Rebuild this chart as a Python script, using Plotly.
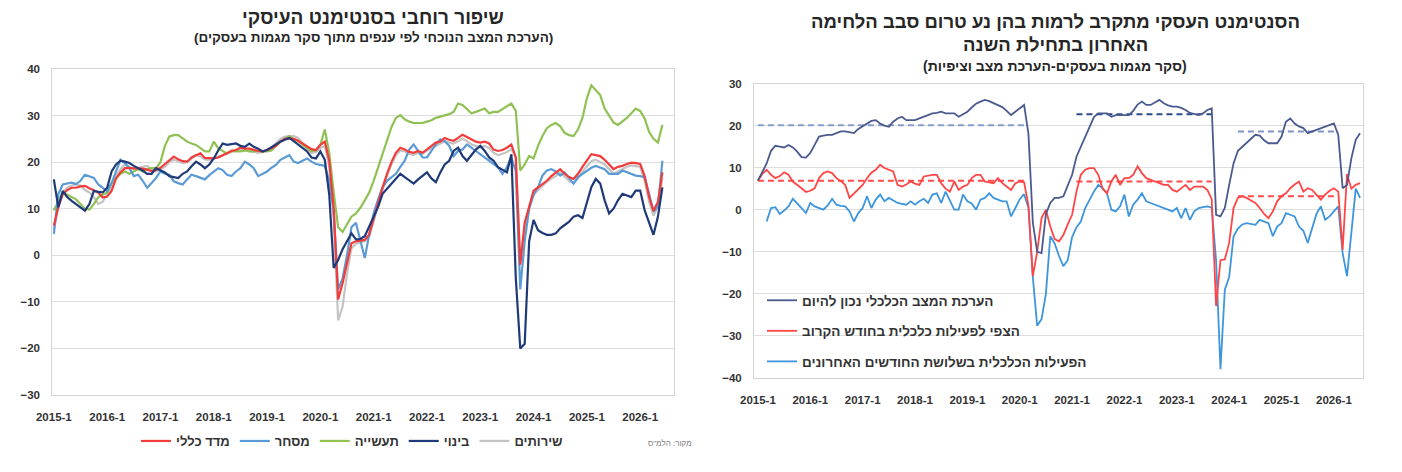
import plotly.graph_objects as go

FONT = "Arial, Liberation Sans, DejaVu Sans, sans-serif"

years = list(range(2015, 2027))
months = [f"{y}-{m}" for y in years for m in range(1, 13)]
year_ticks = [f"{y}-1" for y in years]

# ---- left chart: current assessment by sector (2015-1 .. 2026-6)
total_idx = [
    6.4, 10.3, 13.1, 14.0, 14.5, 14.5, 14.8, 14.9, 14.4, 13.9, 13.5, 12.4,
    12.6, 13.8, 16.5, 17.8, 18.7, 18.7, 18.7, 18.7, 18.6, 18.4, 18.1, 18.3,
    18.8, 19.6, 20.5, 21.2, 20.6, 20.2, 20.1, 21.0, 21.5, 21.9, 20.9, 20.8,
    20.8, 21.0, 21.4, 21.9, 22.4, 22.6, 23.1, 22.9, 22.9, 22.6, 22.4, 22.3,
    22.6, 23.0, 23.5, 24.4, 25.0, 25.1, 25.0, 24.6, 24.0, 23.3, 22.8, 22.6,
    23.7, 24.4, 20.3, 10.0, -9.5, -6.0, -1.5, 2.6, 3.0, 3.1, 3.3, 4.5,
    8.0, 11.5, 14.6, 17.5, 20.0, 22.0, 23.1, 22.7, 22.2, 22.0, 22.4, 22.0,
    22.8, 23.6, 24.2, 24.4, 25.2, 24.8, 24.6, 25.2, 25.9, 25.4, 24.9, 24.4,
    24.2, 24.4, 24.0, 22.7, 22.4, 22.6, 23.1, 23.8, 21.0, -2.0, 7.0, 10.5,
    13.9, 14.6, 15.3, 16.0, 17.0, 17.8, 18.5, 17.5, 16.8, 16.4, 17.5, 19.0,
    20.3, 21.7, 21.5, 21.3, 20.5, 19.6, 18.5, 19.0, 19.2, 19.6, 19.9, 19.8,
    19.6, 17.0, 12.5, 9.5, 11.5, 17.8,
]
commerce = [
    4.6, 13.1, 15.2, 15.4, 15.6, 15.3, 16.0, 17.3, 17.0, 16.6, 15.2, 14.5,
    13.8, 15.5, 18.0, 20.5, 19.8, 18.7, 17.0, 17.3, 16.0, 14.5, 15.5, 16.6,
    18.0, 17.5, 17.3, 15.9, 15.5, 15.2, 16.3, 17.3, 17.0, 16.6, 16.3, 17.2,
    18.0, 18.7, 18.3, 17.3, 17.0, 18.0, 18.7, 20.1, 19.5, 18.7, 17.0, 17.5,
    18.0, 18.8, 19.4, 20.5, 21.0, 21.5, 20.1, 19.8, 20.3, 20.8, 20.1, 19.6,
    19.4, 19.2, 16.0, 9.6, -7.3, -5.0, 0.0, 6.0, 7.0, 3.0, -0.6, 4.5,
    9.0, 12.0, 14.6, 16.0, 16.8, 17.5, 19.0, 20.3, 22.7, 23.8, 22.4, 21.0,
    21.0, 22.4, 23.8, 24.9, 24.5, 23.5, 21.3, 22.4, 22.7, 23.8, 23.1, 22.5,
    21.7, 21.0, 20.3, 19.5, 18.9, 17.5, 18.9, 21.0, 18.0, -7.3, 3.0, 10.0,
    13.0, 14.6, 17.1, 18.2, 18.5, 18.0, 17.1, 17.8, 16.5, 15.4, 16.8, 17.5,
    18.2, 18.8, 19.2, 18.9, 18.5, 17.5, 17.5, 17.5, 18.2, 17.8, 17.5, 17.1,
    17.0, 16.8, 13.2, 9.4, 10.4, 20.3,
]
industry = [
    9.6, 11.5, 13.5, 13.0, 12.5, 12.0, 11.0, 10.0, 9.8, 11.0, 12.5, 13.0,
    13.5, 15.5, 16.5, 17.5, 18.0, 17.5, 18.0, 18.5, 18.0, 18.5, 18.7, 18.7,
    20.0, 23.5, 25.5, 25.8, 25.8, 25.0, 24.4, 24.0, 23.7, 23.0, 22.3, 22.3,
    24.4, 23.0, 22.3, 21.8, 22.5, 22.3, 22.3, 22.5, 22.3, 22.3, 22.5, 22.3,
    22.3, 22.5, 23.5, 24.4, 25.0, 25.6, 25.0, 24.5, 23.7, 23.0, 22.3, 22.5,
    23.7, 27.0, 22.0, 13.5, 6.0, 5.0, 6.5, 8.3, 9.0, 10.2, 11.8, 13.5,
    16.0, 19.0, 22.0, 24.5, 27.5, 29.5, 30.1, 29.2, 28.7, 28.4, 28.4, 28.4,
    28.7, 29.0, 29.5, 29.8, 30.1, 30.3, 30.8, 32.6, 32.3, 31.5, 30.5, 30.8,
    31.2, 31.5, 30.5, 30.8, 30.8, 31.5, 32.0, 32.6, 31.0, 18.2, 19.5, 21.3,
    20.8, 23.5, 25.6, 27.3, 28.0, 28.4, 27.7, 26.3, 25.8, 25.6, 27.0, 29.5,
    33.7, 36.5, 35.5, 34.4, 31.5, 30.1, 28.5, 28.0, 28.7, 29.5, 30.5, 31.5,
    31.0, 29.4, 26.5, 25.0, 24.2, 28.0,
]
construction = [
    16.3, 10.3, 13.8, 12.5, 11.7, 11.0, 10.3, 9.6, 11.0, 13.8, 13.6, 13.5,
    14.5, 18.0, 19.5, 20.3, 20.1, 19.8, 19.2, 18.7, 18.2, 17.5, 17.5, 18.7,
    18.3, 17.8, 17.0, 16.8, 16.6, 17.5, 18.0, 19.1, 20.1, 19.5, 18.7, 19.5,
    20.8, 22.5, 24.0, 23.7, 23.8, 24.0, 23.5, 23.3, 24.0, 23.3, 22.9, 22.3,
    22.6, 23.2, 23.7, 24.4, 24.8, 25.2, 24.5, 23.7, 23.0, 22.3, 21.0, 20.8,
    22.3, 20.5, 13.0, -2.7, -1.0, 1.3, 3.0, 4.7, 3.4, 3.5, 4.1, 6.2,
    8.0, 10.4, 13.2, 14.3, 15.4, 16.5, 17.5, 16.8, 16.1, 15.4, 16.3, 17.1,
    17.8, 16.5, 15.7, 17.8, 19.5, 20.3, 22.4, 23.1, 21.3, 20.3, 21.5, 22.7,
    23.5, 22.4, 21.0, 20.3, 18.9, 18.3, 17.8, 21.7, -5.0, -20.0, -19.0, 3.0,
    7.6, 5.4, 4.8, 4.4, 4.4, 4.7, 5.8, 6.5, 7.2, 8.3, 8.6, 8.0,
    11.1, 14.6, 16.4, 15.4, 11.8, 9.0, 10.0, 11.8, 13.2, 12.9, 12.5, 13.9,
    13.9, 9.7, 6.9, 4.4, 8.3, 14.6,
]
services = [
    5.5, 10.5, 13.5, 14.5, 15.0, 15.2, 15.0, 14.0, 13.5, 12.5, 11.0, 11.5,
    13.0, 14.5, 17.0, 18.5, 19.5, 19.0, 18.5, 18.8, 19.0, 19.2, 18.5, 18.0,
    18.5, 19.0, 20.0, 20.5, 20.2, 19.8, 20.0, 20.8, 21.5, 21.2, 20.6, 20.5,
    20.8, 21.2, 21.5, 22.0, 22.2, 22.4, 22.8, 22.6, 22.5, 22.3, 22.0, 22.2,
    22.6, 23.2, 24.0, 25.0, 25.5, 25.6, 25.6, 25.2, 24.0, 22.8, 22.0, 22.2,
    23.0, 23.5, 19.0, 8.0, -14.0, -11.0, -4.0, 1.5, 2.5, 2.8, 3.0, 4.0,
    7.5, 11.0, 14.0, 17.0, 19.5, 21.5, 22.5, 22.3, 21.8, 21.5, 22.0, 21.8,
    22.5, 23.0, 23.5, 24.0, 24.5, 24.2, 24.0, 24.5, 25.0, 24.5, 23.8, 23.5,
    23.2, 23.5, 23.0, 22.0, 21.5, 21.8, 22.2, 22.8, 21.0, -1.5, 6.0, 10.0,
    13.0, 14.0, 15.0, 15.8, 16.5, 17.0, 17.8, 17.0, 16.0, 15.5, 16.5, 18.0,
    19.0, 20.2, 20.5, 20.0, 19.5, 18.5, 17.5, 18.0, 18.5, 19.0, 19.3, 19.2,
    19.0, 16.0, 11.5, 8.5, 10.5, 16.5,
]

# ---- right chart: business tendency survey (2015-1 .. 2026-7)
current_state = [
    6.9, 9.1, 11.0, 14.0, 15.2, 15.0, 14.8, 15.4, 14.8, 13.8, 12.5, 12.4,
    13.5, 15.4, 17.4, 17.6, 17.8, 17.8, 18.2, 18.6, 18.6, 18.4, 18.2, 19.2,
    19.8, 20.5, 21.1, 21.3, 20.5, 20.0, 19.7, 20.9, 21.7, 22.1, 21.3, 21.3,
    21.3, 21.7, 22.1, 22.5, 22.9, 23.0, 23.3, 22.9, 22.9, 22.9, 22.1, 22.6,
    23.3, 24.3, 25.2, 25.7, 26.1, 25.8, 25.3, 24.9, 24.4, 23.5, 22.5, 23.3,
    24.1, 24.9, 18.0, -3.0, -10.0, -10.3, -1.0, 1.6, 2.8, 2.8, 3.2, 6.0,
    8.3, 12.6, 15.0, 17.0, 19.5, 22.0, 22.9, 22.9, 22.9, 22.1, 22.5, 22.5,
    22.5, 22.5, 23.5, 25.0, 25.7, 24.9, 24.9, 25.5, 26.1, 25.3, 24.8, 24.5,
    24.5, 24.2, 23.7, 23.0, 22.7, 22.5, 22.9, 23.7, 24.1, -1.2, -1.6, 0.4,
    5.9, 11.0, 14.0, 15.0, 16.0, 16.8, 17.8, 17.6, 16.5, 15.8, 15.8, 15.8,
    17.4, 20.9, 21.7, 20.5, 19.8, 19.4, 18.2, 18.6, 19.0, 19.4, 19.8, 20.1,
    20.5, 17.8, 5.1, 5.9, 12.2, 16.6, 18.2,
]
expect_next = [
    6.9, 8.5, 9.5, 8.3, 7.5, 8.0, 8.9, 8.3, 6.7, 6.0, 5.1, 4.2,
    4.5, 5.1, 7.5, 8.7, 9.1, 8.7, 7.5, 6.8, 5.9, 2.8, 3.9, 5.0,
    5.9, 7.5, 8.8, 9.5, 10.7, 9.9, 9.5, 9.1, 5.9, 5.5, 6.0, 6.7,
    6.2, 5.9, 7.9, 8.1, 8.3, 8.3, 6.3, 5.0, 4.3, 6.7, 4.7, 5.5,
    5.9, 7.5, 8.3, 8.3, 6.7, 6.5, 6.3, 7.5, 6.3, 5.5, 4.7, 6.3,
    6.7, 6.5, 1.0, -15.8, -10.0, -2.0, 0.0, -4.0, -7.0, -7.5, -6.0, -3.5,
    -1.2, 4.3, 8.3, 9.5, 9.9, 9.9, 8.3, 5.0, 3.9, 6.7, 8.3, 5.9,
    7.5, 7.5, 8.3, 10.3, 8.7, 7.5, 7.0, 6.7, 6.3, 5.9, 5.9, 4.7,
    4.3, 5.0, 5.9, 4.7, 5.5, 5.5, 5.5, 4.7, 2.5, -22.9, -12.0, -11.8,
    -7.9, 0.4, 2.8, 3.2, 2.8, 2.2, 1.6, 0.4, -1.0, -2.0, -0.4, 2.0,
    3.2, 3.9, 5.1, 6.0, 6.7, 4.3, 5.1, 4.7, 3.5, 2.4, 3.6, 4.5,
    5.1, 4.3, -9.5, 8.5, 5.0, 5.9, 6.3,
]
activity_3m = [
    None, None, -2.8, 0.4, 0.6, -1.0, -0.2, 0.8, 2.6, 1.6, 0.4, -0.8,
    1.6, 0.8, 0.4, 0.0, 1.0, 2.6, 1.2, 0.9, 0.8, -0.4, -2.8, -0.8,
    0.4, 3.2, 0.4, 2.4, 3.6, 2.0, 2.8, 2.2, 1.6, 1.4, 1.2, 2.0,
    1.2, 2.0, 2.6, 1.6, 3.6, 3.9, 1.6, 4.3, 2.0, 0.0, 0.0, 3.6,
    2.0, 1.5, 0.0, 2.4, 2.8, 3.9, 2.8, 2.4, 2.0, 2.0, -1.6, 0.4,
    2.5, 3.7, 0.4, -16.0, -27.6, -26.0, -20.0, -6.3, -8.0, -11.0, -13.4, -12.0,
    -6.5, -4.2, -2.8, 0.4, 2.4, 4.3, 5.9, 5.1, 3.9, 0.0, -0.4, 0.8,
    3.6, -1.6, 1.2, 2.4, 3.9, 2.0, 1.6, 1.2, 0.8, 0.4, 0.0, -0.4,
    0.4, -2.0, 0.4, -2.4, -0.4, 0.4, 0.6, 0.8, 0.5, -12.0, -37.9, -19.0,
    -16.0, -6.3, -4.5, -3.5, -3.2, -3.4, -3.6, -2.4, -2.8, -3.2, -6.3, -4.0,
    -3.2, -0.8, -1.2, -1.6, -4.0, -5.0, -7.9, -4.7, -1.0, 0.8, -2.4, -1.6,
    -0.5, 0.8, -10.3, -15.8, -5.5, 5.0, 2.8,
]

# period averages (dashed lines): start/end month index, level
avg_periods = [(0, 61), (73, 104), (110, 133)]
current_avg = [20.1, 22.7, 18.6]
expect_avg = [6.9, 6.7, 3.2]

# the page has an 8px body margin, so the figure is drawn 8px in from the corner
W, H, OFF = 1386, 456, 8


def px(x):
    return (x - OFF) / W


def py(y):
    return 1 - (y - OFF) / H


fig = go.Figure()

left_series = [
    ("שירותים", services, "#C4C4C4", 5),
    ("תעשייה", industry, "#8FC153", 3),
    ("מסחר", commerce, "#5B9BD5", 2),
    ("מדד כללי", total_idx, "#F23C3C", 1),
    ("בינוי", construction, "#1F3A78", 4),
]
for name, vals, color, rank in left_series:
    fig.add_trace(go.Scatter(
        x=months[:len(vals)], y=vals, mode="lines", name=name,
        line=dict(color=color, width=2.2), legend="legend", legendrank=rank,
        xaxis="x", yaxis="y", hoverinfo="skip",
    ))

# dashed averages on the right chart
cur_dash_colors = ["#8A9CCB", "#2C4A8A", "#7F93C4"]
for (a, b), lvl, col in zip(avg_periods, current_avg, cur_dash_colors):
    fig.add_trace(go.Scatter(
        x=[months[a], months[b]], y=[lvl, lvl], mode="lines", showlegend=False,
        line=dict(color=col, width=2, dash="6px,4px"), xaxis="x2", yaxis="y2",
    ))
for (a, b), lvl in zip(avg_periods, expect_avg):
    fig.add_trace(go.Scatter(
        x=[months[a], months[b]], y=[lvl, lvl], mode="lines", showlegend=False,
        line=dict(color="#FF4D4D", width=2, dash="6px,4px"), xaxis="x2", yaxis="y2",
    ))

right_series = [
    ("הפעילות הכלכלית בשלושת החודשים האחרונים", activity_3m, "#3D95DE", 3),
    ("הצפי לפעילות כלכלית בחודש הקרוב", expect_next, "#FF4545", 2),
    ("הערכת המצב הכלכלי נכון להיום", current_state, "#4A5A8E", 1),
]
for name, vals, color, rank in right_series:
    fig.add_trace(go.Scatter(
        x=months[:len(vals)], y=vals, mode="lines", name=name,
        line=dict(color=color, width=1.8), legend="legend2", legendrank=rank,
        legendgroup=name, xaxis="x2", yaxis="y2", hoverinfo="skip",
    ))

tick_font = dict(family=FONT, size=11.5, color="#333333", weight="bold")
grid = "#DEDEDE"
frame = "#D4D4D4"

xcommon = dict(
    type="category", categoryorder="array", categoryarray=months,
    tickmode="array", tickvals=year_ticks, ticktext=year_ticks,
    showgrid=False, showline=True, mirror=True, linecolor=frame,
    tickfont=tick_font, ticks="", ticklabelstandoff=11, tickangle=0,
    automargin=False,
)
ycommon = dict(
    dtick=10, showgrid=True, gridcolor=grid, zeroline=False,
    showline=True, mirror=True, linecolor=frame, tickfont=tick_font,
    ticks="", ticklabelstandoff=9, automargin=False,
)

fig.update_layout(
    width=W, height=H, autosize=False,
    margin=dict(l=0, r=0, t=0, b=0),
    paper_bgcolor="white", plot_bgcolor="white",
    font=dict(family=FONT, color="#262626"),
    xaxis=dict(xcommon, domain=[px(52.3), px(673.5)], range=[-0.35, 139.5]),
    yaxis=dict(ycommon, domain=[py(395), py(69)], range=[-30, 40]),
    xaxis2=dict(xcommon, domain=[px(754), px(1362.7)], range=[-0.9, 138.6], anchor="y2"),
    yaxis2=dict(ycommon, domain=[py(378), py(83.5)], range=[-40, 30], anchor="x2"),
    legend=dict(
        orientation="h", x=px(352), xanchor="center", y=py(441), yanchor="middle",
        font=dict(family=FONT, size=13, color="#333333", weight="bold"),
        bgcolor="rgba(0,0,0,0)", itemwidth=30,
    ),
    legend2=dict(
        orientation="v", x=px(762), xanchor="left", y=py(285), yanchor="top",
        font=dict(family=FONT, size=13.5, color="#333333", weight="bold"),
        bgcolor="rgba(0,0,0,0)", itemwidth=30, traceorder="grouped",
        tracegroupgap=10,
    ),
    showlegend=True,
)

RLM = "\u200f"
annotations = [
    (373, 18, "שיפור רוחבי בסנטימנט העיסקי", 19),
    (373, 37, RLM + "(הערכת המצב הנוכחי לפי ענפים מתוך סקר מגמות בעסקים)" + RLM, 13.5),
    (1055, 22, "הסנטימנט העסקי מתקרב לרמות בהן נע טרום סבב הלחימה", 18.5),
    (1055, 45, "האחרון בתחילת השנה", 18.5),
    (1055, 66, RLM + "(סקר מגמות בעסקים-הערכת מצב וציפיות)" + RLM, 14),
]
for ax, ay, text, size in annotations:
    fig.add_annotation(
        x=px(ax), y=py(ay), xref="paper", yref="paper",
        text=text, showarrow=False, xanchor="center", yanchor="middle",
        font=dict(family=FONT, size=size, color="#262626", weight="bold"),
    )
fig.add_annotation(
    x=px(670), y=py(443), xref="paper", yref="paper",
    text="מקור: הלמ\"ס", showarrow=False, xanchor="center", yanchor="middle",
    font=dict(family=FONT, size=8, color="#808080"),
)

fig.write_html("out.html")
